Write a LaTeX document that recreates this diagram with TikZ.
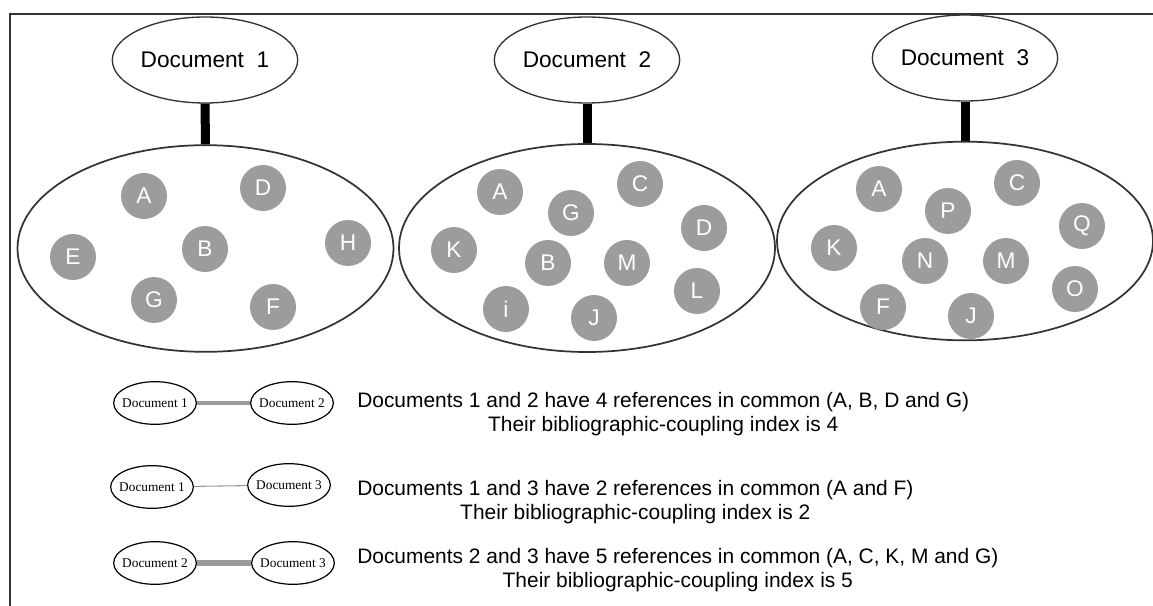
\documentclass[tikz,border=0pt]{standalone}
\usepackage{fontspec}
\setmainfont{Liberation Sans}
\newfontfamily\serifdoc{Liberation Serif}
\usetikzlibrary{shapes.geometric}
\definecolor{cgray}{HTML}{9C9C9C}
\definecolor{lgray}{HTML}{333333}
\definecolor{bgray}{HTML}{999999}
\newcommand{\zw}[1]{\makebox[0pt]{#1}}
\tikzset{
  x=0.75pt, y=-0.75pt,
  topdoc/.style={ellipse, draw=lgray, line width=1pt, inner sep=0pt, minimum width=139pt, minimum height=64.5pt, font=\fontsize{17}{20}\selectfont},
  bigdoc/.style={ellipse, draw=lgray, line width=1.3pt, inner sep=0pt, minimum width=282pt},
  refc/.style={circle, fill=cgray, inner sep=0pt, minimum size=34.5pt, text=white, font=\fontsize{17}{20}\selectfont},
  stick/.style={line width=6.75pt, black},
  smalldoc/.style={ellipse, draw=black, line width=0.9pt, inner sep=0pt, minimum width=62pt, minimum height=32pt, font=\serifdoc\fontsize{10}{12}\selectfont},
  desc/.style={anchor=west, align=center, font=\fontsize{15.7}{18.5}\selectfont, inner sep=0pt},
  frameline/.style={draw=lgray, line width=1.1pt}
}
\begin{document}
\begin{tikzpicture}
\useasboundingbox (0,0) rectangle (1153,606);
\coordinate (f1) at (10,606);
\coordinate (f2) at (10,14);
\coordinate (f3) at (1153,14);
\draw[frameline] (f1) -- (f2) -- (f3);

% top documents
\node[topdoc] (d1) at (205,60) {Document\ \ 1};
\node[topdoc] (d2) at (587,60) {Document\ \ 2};
\node[topdoc] (d3) at (965,58) {Document\ \ 3};

% big ellipses
\node[bigdoc, minimum height=155pt] (e1) at (205.5,248.5) {};
\node[bigdoc, minimum height=156pt] (e2) at (587,248) {};
\node[bigdoc, minimum height=149pt] (e3) at (965,241) {};

\draw[stick] (d1.south) -- (e1.north);
\draw[stick] (d2.south) -- (e2.north);
\draw[stick] (d3.south) -- (e3.north);

% references doc 1
\node[refc] (a1) at (144,196) {A};
\node[refc] (dd1) at (263,188) {D};
\node[refc] (ee1) at (73,257) {E};
\node[refc] (b1) at (205,249) {B};
\node[refc] (h1) at (348,243) {H};
\node[refc] (g1) at (154,300) {G};
\node[refc] (ff1) at (273,307) {F};

% references doc 2
\node[refc] (a2) at (500,192) {A};
\node[refc] (c2) at (640,184) {C};
\node[refc] (g2) at (571,213) {G};
\node[refc] (k2) at (454,250) {K};
\node[refc] (dd2) at (704,228) {D};
\node[refc] (b2) at (548,263) {B};
\node[refc] (m2) at (627,263) {M};
\node[refc] (l2) at (697,291) {L};
\node[refc] (i2) at (506,309) {i};
\node[refc] (j2) at (594,318) {J};

% references doc 3
\node[refc] (a3) at (879,189) {A};
\node[refc] (c3) at (1017,183) {C};
\node[refc] (p3) at (948,211) {P};
\node[refc] (q3) at (1082,226) {Q};
\node[refc] (k3) at (834,248) {K};
\node[refc] (n3) at (925,261) {N};
\node[refc] (m3) at (1006,261) {M};
\node[refc] (o3) at (1075,289) {O};
\node[refc] (ff3) at (883,307) {F};
\node[refc] (j3) at (971,316) {J};

% pairs
\node[smalldoc] (p1a) at (155,403) {\zw{Document 1}};
\node[smalldoc] (p1b) at (292,403) {\zw{Document 2}};
\draw[bgray, line width=3pt] (p1a) -- (p1b);

\node[smalldoc] (p2a) at (152,487) {\zw{Document 1}};
\node[smalldoc] (p2b) at (289,485) {\zw{Document 3}};
\draw[bgray, line width=0.8pt] (p2a) -- (p2b);

\node[smalldoc] (p3a) at (155,563) {\zw{Document 2}};
\node[smalldoc] (p3b) at (293,563) {\zw{Document 3}};
\draw[bgray, line width=4.5pt] (p3a) -- (p3b);

\node[desc] (t1) at (357,414) {Documents 1 and 2 have 4 references in common (A, B, D and G)\\Their bibliographic-coupling index is 4};
\node[desc] (t2) at (357,502) {Documents 1 and 3 have 2 references in common (A and F)\\Their bibliographic-coupling index is 2};
\node[desc] (t3) at (357,570) {Documents 2 and 3 have 5 references in common (A, C, K, M and G)\\Their bibliographic-coupling index is 5};
\end{tikzpicture}
\end{document}
